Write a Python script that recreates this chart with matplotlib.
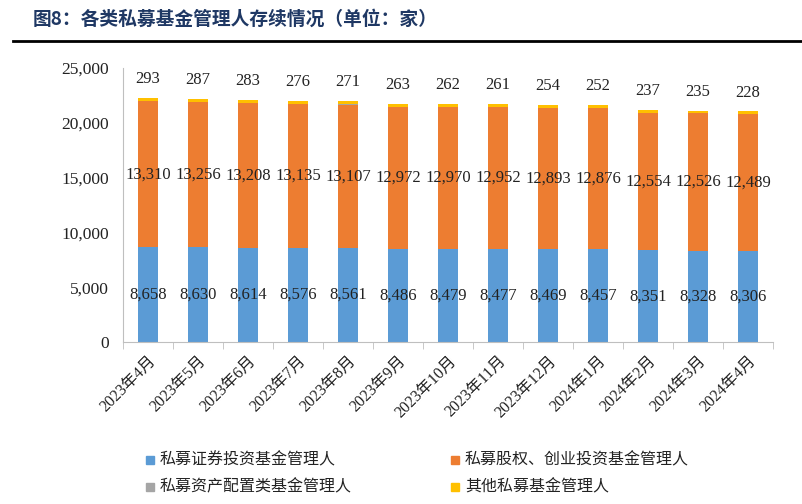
import matplotlib
matplotlib.use("Agg")
import matplotlib.pyplot as plt
import numpy as np
from matplotlib.lines import Line2D

months = ["2023年4月", "2023年5月", "2023年6月", "2023年7月", "2023年8月", "2023年9月",
          "2023年10月", "2023年11月", "2023年12月", "2024年1月", "2024年2月", "2024年3月", "2024年4月"]
securities = [8658, 8630, 8614, 8576, 8561, 8486, 8479, 8477, 8469, 8457, 8351, 8328, 8306]
equity_vc = [13310, 13256, 13208, 13135, 13107, 12972, 12970, 12952, 12893, 12876, 12554, 12526, 12489]
asset_alloc = [9, 9, 9, 9, 9, 9, 9, 9, 9, 9, 9, 9, 9]
others = [293, 287, 283, 276, 271, 263, 262, 261, 254, 252, 237, 235, 228]

names = ["私募证券投资基金管理人", "私募股权、创业投资基金管理人", "私募资产配置类基金管理人", "其他私募基金管理人"]
colors = ["#5B9BD5", "#ED7D31", "#A5A5A5", "#FFC000"]

serif = ["Liberation Serif", "Noto Sans CJK SC", "DejaVu Sans"]
cjk = ["Noto Sans CJK SC", "DejaVu Sans"]

fig = plt.figure(figsize=(8.03, 5.04), dpi=100)
ax = fig.add_axes([123 / 803, 1 - 342 / 504, 650 / 803, (342 - 68) / 504])

x = np.arange(len(months))
w = 0.4
s = np.array(securities)
e = np.array(equity_vc)
a = np.array(asset_alloc)
o = np.array(others)

ax.bar(x, s, w, color=colors[0], label=names[0])
ax.bar(x, e, w, bottom=s, color=colors[1], label=names[1])
ax.bar(x, a, w, bottom=s + e, color=colors[2], label=names[2])
ax.bar(x, o, w, bottom=s + e + a, color=colors[3], label=names[3])

for i in range(len(months)):
    ax.text(x[i], s[i] / 2, f"{s[i]:,}", ha="center", va="center", fontsize=12, family=serif, color="#222222")
    ax.text(x[i], s[i] + e[i] / 2, f"{e[i]:,}", ha="center", va="center", fontsize=12, family=serif, color="#222222")
    top = s[i] + e[i] + a[i] + o[i]
    ax.text(x[i], top + 1000, f"{o[i]:,}", ha="center", va="bottom", fontsize=12, family=serif, color="#222222")

ax.set_xlim(-0.5, len(months) - 0.5)
ax.set_ylim(0, 25000)
ax.set_yticks(range(0, 25001, 5000))
ax.set_yticklabels([f"{v:,}" for v in range(0, 25001, 5000)], family=serif, fontsize=12.5, color="#222222")
ax.tick_params(axis="y", length=0, pad=10)

ax.set_xticks(x)
ax.set_xticklabels(months, rotation=45, ha="right", rotation_mode="anchor", family=serif, fontsize=11.5, color="#222222")
ax.set_xticks(np.arange(-0.5, len(months), 1), minor=True)
ax.tick_params(axis="x", which="major", length=0, pad=8)
ax.tick_params(axis="x", which="minor", length=5, color="#BFBFBF")

for sp in ["top", "right"]:
    ax.spines[sp].set_visible(False)
for sp in ["left", "bottom"]:
    ax.spines[sp].set_color("#BFBFBF")

fig.text(33 / 803, 1 - 19 / 504, "图8：各类私募基金管理人存续情况（单位：家）", family=cjk, fontsize=13.5,
         fontweight="bold", color="#1F3864", va="center", ha="left")
fig.add_artist(Line2D([13 / 803, 1.0], [1 - 41 / 504, 1 - 41 / 504], color="black", linewidth=2))

pos = [(150, 460), (455, 460), (150, 487), (455, 487)]
for (px, py), nm, c in zip(pos, names, colors):
    fig.patches.append(matplotlib.patches.Rectangle((px / 803 - 4 / 803, 1 - py / 504 - 4 / 504), 8 / 803, 8 / 504,
                                                    transform=fig.transFigure, color=c))
    fig.text((px + 10) / 803, 1 - py / 504, nm, family=cjk, fontsize=11.5, color="#222222", va="center", ha="left")

fig.savefig("out.png", dpi=100)
